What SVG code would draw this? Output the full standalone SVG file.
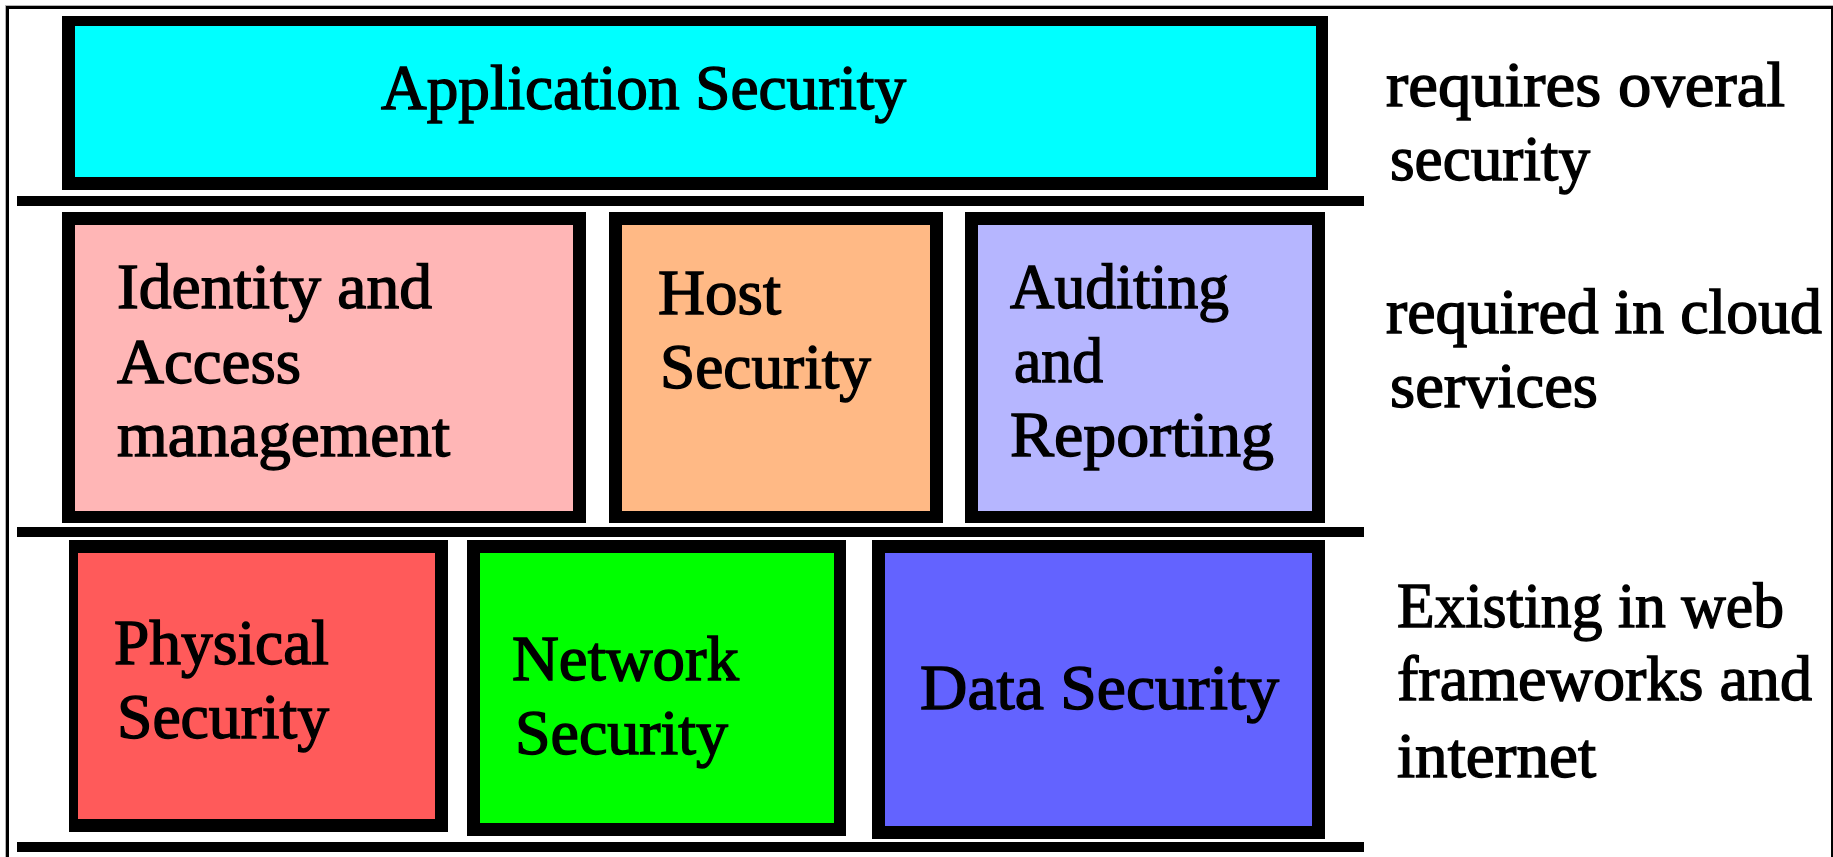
<svg xmlns="http://www.w3.org/2000/svg" width="1833" height="857" viewBox="0 0 1833 857">
  <style>
    .edge { fill: #000000; }
    .lbl { font-family: "Liberation Serif", "Times New Roman", serif; font-size: 64px; fill: #000000; stroke: #000000; stroke-width: 1.4px; }
    .rule { fill: #000000; }
  </style>

  <!-- page background and frame -->
  <rect x="0" y="0" width="1833" height="857" fill="#ffffff"/>
  <rect x="5" y="5" width="1828" height="1" fill="#b4b4b4"/>
  <rect x="5" y="5" width="1" height="852" fill="#b4b4b4"/>
  <rect x="6" y="6" width="1827" height="3" fill="#000000"/>
  <rect x="6" y="6" width="3" height="851" fill="#000000"/>
  <rect x="1831" y="6" width="2" height="851" fill="#000000"/>

  <!-- layer separators -->
  <g id="separators">
    <rect class="rule" x="17" y="196" width="1347" height="10"/>
    <rect class="rule" x="17" y="527" width="1347" height="10"/>
    <rect class="rule" x="17" y="842" width="1347" height="10"/>
  </g>

  <!-- top layer -->
  <g id="application-security">
    <rect class="edge" x="62" y="16" width="1266" height="174"/>
    <rect x="75" y="26" width="1241" height="151" fill="#00ffff"/>
    <text class="lbl" x="381" y="109" textLength="525" lengthAdjust="spacingAndGlyphs">Application Security</text>
  </g>

  <!-- middle layer -->
  <g id="identity-access">
    <rect class="edge" x="62" y="212" width="524" height="311"/>
    <rect x="75" y="225" width="498" height="286" fill="#ffb6b6"/>
    <text class="lbl" x="117" y="308" textLength="315" lengthAdjust="spacingAndGlyphs">Identity and</text>
    <text class="lbl" x="117" y="383" textLength="184" lengthAdjust="spacingAndGlyphs">Access</text>
    <text class="lbl" x="117" y="456" textLength="333" lengthAdjust="spacingAndGlyphs">management</text>
  </g>

  <g id="host-security">
    <rect class="edge" x="609" y="212" width="334" height="311"/>
    <rect x="622" y="225" width="308" height="286" fill="#ffb985"/>
    <text class="lbl" x="658" y="314" textLength="123" lengthAdjust="spacingAndGlyphs">Host</text>
    <text class="lbl" x="660" y="388" textLength="211" lengthAdjust="spacingAndGlyphs">Security</text>
  </g>

  <g id="auditing-reporting">
    <rect class="edge" x="965" y="212" width="360" height="311"/>
    <rect x="978" y="225" width="334" height="286" fill="#b6b6ff"/>
    <text class="lbl" x="1010" y="308" textLength="219" lengthAdjust="spacingAndGlyphs">Auditing</text>
    <text class="lbl" x="1014" y="382" textLength="89" lengthAdjust="spacingAndGlyphs">and</text>
    <text class="lbl" x="1010" y="456" textLength="264" lengthAdjust="spacingAndGlyphs">Reporting</text>
  </g>

  <!-- bottom layer -->
  <g id="physical-security">
    <rect class="edge" x="69" y="540" width="379" height="292"/>
    <rect x="78" y="553" width="357" height="266" fill="#ff5a5a"/>
    <text class="lbl" x="114" y="664" textLength="215" lengthAdjust="spacingAndGlyphs">Physical</text>
    <text class="lbl" x="117" y="738" textLength="212" lengthAdjust="spacingAndGlyphs">Security</text>
  </g>

  <g id="network-security">
    <rect class="edge" x="467" y="540" width="379" height="296"/>
    <rect x="480" y="553" width="354" height="270" fill="#00ff00"/>
    <text class="lbl" x="512" y="680" textLength="227" lengthAdjust="spacingAndGlyphs">Network</text>
    <text class="lbl" x="515" y="754" textLength="213" lengthAdjust="spacingAndGlyphs">Security</text>
  </g>

  <g id="data-security">
    <rect class="edge" x="872" y="540" width="453" height="299"/>
    <rect x="885" y="553" width="427" height="273" fill="#6363ff"/>
    <text class="lbl" x="920" y="709" textLength="359" lengthAdjust="spacingAndGlyphs">Data Security</text>
  </g>

  <!-- layer descriptions -->
  <g id="note-top">
    <text class="lbl" x="1386" y="106" textLength="399" lengthAdjust="spacingAndGlyphs">requires overal</text>
    <text class="lbl" x="1390" y="180" textLength="200" lengthAdjust="spacingAndGlyphs">security</text>
  </g>
  <g id="note-middle">
    <text class="lbl" x="1386" y="333" textLength="436" lengthAdjust="spacingAndGlyphs">required in cloud</text>
    <text class="lbl" x="1390" y="407" textLength="208" lengthAdjust="spacingAndGlyphs">services</text>
  </g>
  <g id="note-bottom">
    <text class="lbl" x="1397" y="627" textLength="387" lengthAdjust="spacingAndGlyphs">Existing in web</text>
    <text class="lbl" x="1397" y="700" textLength="415" lengthAdjust="spacingAndGlyphs">frameworks and</text>
    <text class="lbl" x="1397" y="777" textLength="199" lengthAdjust="spacingAndGlyphs">internet</text>
  </g>
</svg>
